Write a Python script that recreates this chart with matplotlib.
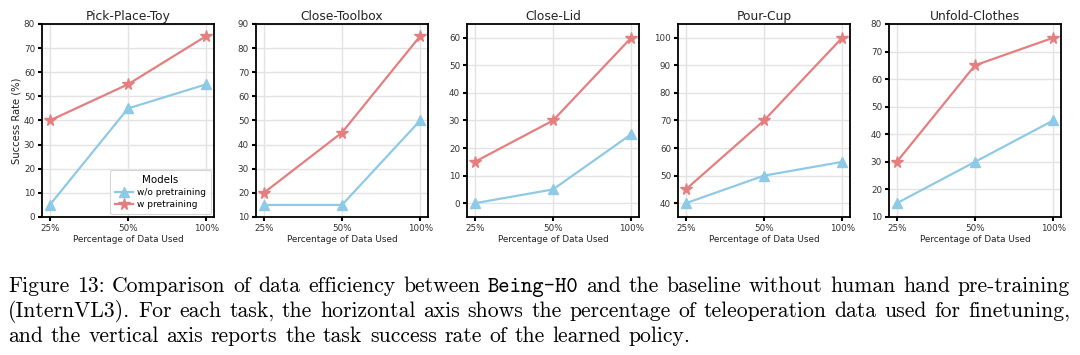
import numpy as np
import matplotlib
matplotlib.use('Agg')
import matplotlib.pyplot as plt
from matplotlib.ticker import MultipleLocator

# =============================================================================
# Data
# =============================================================================
tasks       = ['Pick-Place-Toy', 'Close-Toolbox', 'Close-Lid', 'Pour-Cup', 'Unfold-Clothes']
data_pct    = ['25%', '50%', '100%']
wo_pretrain = [[5, 45, 55], [15, 15, 50], [0, 5, 25], [40, 50, 55], [15, 30, 45]]
w_pretrain  = [[40, 55, 75], [20, 45, 85], [15, 30, 60], [45, 70, 100], [30, 65, 75]]
y_limits    = [(0, 80), (10, 90), (-5, 65), (35, 105), (10, 80)]

caption_lines = [
    [('Figure 13: Comparison of data efficiency between', 'cmr10'), ('Being-H0', 'cmtt10'),
     ('and the baseline without human hand pre-training', 'cmr10')],
    [('(InternVL3). For each task, the horizontal axis shows the percentage of teleoperation data used for finetuning,', 'cmr10')],
    [('and the vertical axis reports the task success rate of the learned policy.', 'cmr10')],
]

c_wo = '#8ECAE6'
c_w  = '#E57F7F'

# =============================================================================
# Figure
# =============================================================================
fig = plt.figure(figsize=(10.8, 3.55), dpi=100)

lefts  = [42, 256, 467, 678, 889]
width  = 172
bottom = 1 - 217 / 355
height = (217 - 24) / 355

x = np.arange(len(data_pct))
for i, task in enumerate(tasks):
    ax = fig.add_axes([lefts[i] / 1080, bottom, width / 1080, height])
    ax.grid(True, color='#e3e3e3', lw=1.0)
    ax.set_axisbelow(True)
    ax.plot(x, wo_pretrain[i], color=c_wo, lw=1.6, marker='^', ms=7, label='w/o pretraining')
    ax.plot(x, w_pretrain[i], color=c_w, lw=1.6, marker='*', ms=8.5, label='w pretraining')
    ax.set_xlim(-0.1, 2.1)
    ax.set_ylim(*y_limits[i])
    ax.yaxis.set_major_locator(MultipleLocator(10))
    ax.set_xticks(x)
    ax.set_xticklabels(data_pct)
    ax.tick_params(axis='both', direction='out', length=3, width=1.5, color='black',
                   labelsize=6.3, labelcolor='#333333', pad=2)
    for sp in ax.spines.values():
        sp.set_color('black')
        sp.set_linewidth(1.3)
    ax.set_title(task, fontsize=8.8, pad=3, color='#222222')
    ax.set_xlabel('Percentage of Data Used', fontsize=6.4, labelpad=1.5, color='#222222')
    if i == 0:
        ax.set_ylabel('Success Rate (%)', fontsize=7.2, labelpad=2, color='#222222')
        leg = ax.legend(title='Models', loc='lower right', fontsize=6.5, title_fontsize=7.4,
                        frameon=True, fancybox=True, borderaxespad=0.3, handlelength=2.0,
                        handletextpad=0.5, labelspacing=0.35, borderpad=0.55)
        leg.get_frame().set_edgecolor('#cccccc')
        leg.get_frame().set_linewidth(0.8)

# =============================================================================
# Caption (justified, word by word)
# =============================================================================
fig.canvas.draw()
renderer = fig.canvas.get_renderer()

x_start, x_end = 8, 1070
baselines = [292, 317, 342]


def word_width(word, family, size):
    t = fig.text(0, 0, word, family=family, fontsize=size)
    w = t.get_window_extent(renderer).width
    t.remove()
    return w


# font size: "Figure 13: Comparison of data" spans about 290 px in the reference
probe_w = word_width('Figure 13: Comparison of data', 'cmr10', 10)
cap_size = 10 * 290 / probe_w

first_gap = None
for k, line in enumerate(caption_lines):
    words = []
    for piece, family in line:
        for wrd in piece.split(' '):
            words.append((wrd, family, word_width(wrd, family, cap_size)))
    total = sum(w for _, _, w in words)
    if k < len(caption_lines) - 1:
        gap = (x_end - x_start - total) / (len(words) - 1)
        if first_gap is None:
            first_gap = gap
    else:
        gap = first_gap
    xpos = x_start
    for wrd, family, w in words:
        fig.text(xpos / 1080, 1 - baselines[k] / 355, wrd, family=family, fontsize=cap_size,
                 va='baseline', ha='left', color='black')
        xpos += w + gap

fig.savefig('out.png', dpi=100)
